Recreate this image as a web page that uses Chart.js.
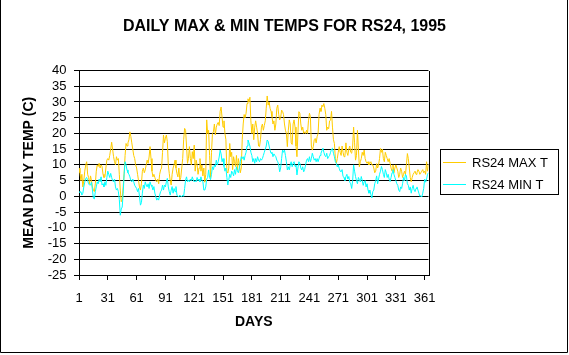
<!DOCTYPE html>
<html><head><meta charset="utf-8">
<script src="https://cdn.jsdelivr.net/npm/chart.js@4.4.1/dist/chart.umd.min.js"></script>
<style>html,body{margin:0;padding:0;background:#fff;}canvas{display:block;}</style>
</head><body>
<canvas id="c" width="569" height="355" style="width:569px;height:355px"></canvas>
<script>
const chartTitle = "DAILY MAX & MIN TEMPS FOR RS24, 1995";
const xTitle = "DAYS";
const yTitle = "MEAN DAILY TEMP (C)";
const seriesNames = ["RS24 MAX T", "RS24 MIN T"];
const xTickLabels = [1, 31, 61, 91, 121, 151, 181, 211, 241, 271, 301, 331, 361];
const yMin = -25, yMax = 40, yStep = 5;
const dayCount = 365;
const days = Array.from({length: dayCount}, (_, i) => i + 1);

const maxT = [
9,7.5,5,7,3,5,8,10,11,7,
6,4,6.5,5,3,2,1.5,4,8,10,
9.5,10.5,9,10,9.5,7,6,6.2,9,11.5,
12,11.5,13,15,17.2,15,12.6,11,10,12.6,
11.5,12,7,2,-1.7,-1,3,7.3,13,16.8,
16,17,18,20.5,19,17,15,13,12,10,
9,7,5,3,2,4,8,9,7.5,8.4,
10,11.5,10.5,12.5,15.8,12,8,6.2,7,6,
5,4.6,5.5,4,7,8.4,9,14,19.5,17,
18.5,19.5,17.4,10,7.3,5,3.6,7,9,10,
11.5,9,7.3,6.2,9,5.2,6,9,12,18,
21.6,21,16,10.5,12,15.8,12,10,14.2,12,
16.3,8,11.5,10,7,9,12,8,10,6.5,
9,4.5,7,24.3,20,21,13,6,14,20,
20.5,23,19.5,22,23,23.5,22.5,27,28.4,25,
22,24,20,18,8,7.4,9,16.8,12.6,14,
8.5,12.6,11,9.5,13,8.4,12,10,7.5,9,
18,23,26,25,26.4,29.5,31,30,31.5,24,
20,23,18,22,24,22,20,16,15.8,18,
22,23,21,22.5,24,28,31.9,29,30,28,
27,25.3,23,24,21,23,28,29,26,24.3,
25,27.4,27,26,23,21,20,15.8,21,24.3,
23,17,16.5,23,24.3,22,16,12.6,20,26.9,
26.4,23,21,22,20,20.5,20,21,20,24,
26.4,25.3,16,14.7,15.8,18,18.4,17,19,20,
26,28,27,29,28.5,29.5,28,26,21,22,
21.5,24,24.2,27,22,18,16.8,12,10.5,12,
14,15.8,14,13,16,14,12.6,13,17,14,
13,15,16,14,13.7,16,22,17,11.5,13,
21,15,9.4,11,12,14,13,14.7,12,11,
10.5,11,10,10.5,11,10,10,9,7.5,8,
10.4,9,10,12,15.2,14,15,12,11,14,
13,12,11,12,10.5,9,8,10,7.5,9,
10,9,8,6,7,9,8,6,7,8,
7,10,13.6,12,9,6,4.6,6,7,7.5,
8,7,7.5,8.5,8,7,7.5,8,8.5,7.5,
8,7,11,8,10
];

const minT = [
1.5,1.2,1.5,0.4,1,3,4.5,5.7,6,5,
4,3.6,3.6,4.5,2,-0.6,-0.8,1.5,3,4.6,
4,5.5,4.6,6.2,3.6,4,3,4.6,3.5,6,
8,7,6,7.3,6,5,4.6,5.5,3,2,
2.5,1.5,-1,-6,-4,-3.4,1,7,11,10,
8.4,7.5,7,6.2,5,4.6,5.5,4.6,3.5,3,
2.5,1.5,2.5,0,-2.8,-2,1,3.6,2.5,4.6,
3.6,3,4,2.5,4.6,3.6,3.1,2,3.1,1,
-0.1,-1.2,-0.6,-1.2,0.4,1.5,2,3.6,2,3.6,
3,4.6,5.7,3,1.5,0.4,2,3.1,1,2.5,
1.5,3.1,0.4,0,-0.1,0.4,0,-0.1,0.4,0,
2.5,5.2,6.2,4.6,5.2,4.6,5.5,5,6.2,5.2,
4.6,5,4.6,6,5,5.5,4.6,6.2,5,4.8,
2,2,3,5.5,6,8.4,6,5.3,7,9.4,
8.5,10,9.4,11.5,10,11,12.5,14.7,13.5,11,
12,9.5,8,9,6,3.6,5.3,7,6,8,
7.5,6.5,8.5,7,9.4,8,7.5,9,11,12.6,
12,12.6,11.5,13,14,16,17.9,17,16,14,
13,11,12,10.5,12,11,12.6,11.5,11,12,
11.5,12,13,14,15,16,17.9,17.5,16,14.7,
13.7,14,12.6,13.5,13,12.6,11.5,11,10,7.8,
9,12,14.7,14,14.7,13,11,8.4,9.4,8.4,
10,11,9.4,10.5,11,9.5,10,6.8,9,11,
10.5,9,8.4,9.4,7.8,8.5,10,11.5,12,11,
12.6,11,12,13.7,12.6,11.5,12,11,12,11,
12,13,13.7,14.5,15.3,14,13,12.6,13.7,12,
12.6,13,14,15,15.3,13.7,12.6,11,10.5,9.4,
10,8.9,8,7.8,8.5,6.3,6,5,6.3,7,
5.5,6.3,4.5,4,2.5,5,10,8,6.3,5,
4,6,5.3,4.6,6.3,5,3.5,4.6,5,3,
4,2,1,2,0.5,-0.5,1.5,2,4,5,
6.5,4,5.5,7,8,9.5,8.5,7,6,8.5,
7.5,6,7,5.5,4.7,6,7.5,8.5,7,6,
5,4,3.5,2,1.5,3,2.5,4,6,5,
7,6.5,4,3.5,2,3,1,2.5,3.5,2,
1.5,2.5,3,2,1,0,0.2,-0.2,1,2.5,
5.5,4.5,5.5,7,7.5
];

const maxColor = '#FFCC00';
const minColor = '#00FFFF';
const FONT = '"Liberation Sans", Arial, sans-serif';

const decor = {
  id: 'decor',
  beforeDraw(chart) {
    const ctx = chart.ctx;
    ctx.save();
    ctx.fillStyle = '#fff';
    ctx.fillRect(0, 0, chart.width, chart.height);
    ctx.restore();
  },
  afterDraw(chart) {
    const {ctx, chartArea: a} = chart;
    ctx.save();
    // chart title
    ctx.fillStyle = '#000';
    ctx.font = 'bold 16px ' + FONT;
    ctx.textAlign = 'center';
    ctx.textBaseline = 'middle';
    ctx.fillText(chartTitle, 284.5, 26.5);
    // right border of plot and outer frame
    ctx.strokeStyle = '#000';
    ctx.lineWidth = 1;
    ctx.beginPath();
    const r = Math.round(a.right) + 0.5;
    ctx.moveTo(r, Math.round(a.top));
    ctx.lineTo(r, Math.round(a.bottom) + 1);
    ctx.moveTo(0.5, 0);
    ctx.lineTo(0.5, 352.5);
    ctx.lineTo(567.5, 352.5);
    ctx.lineTo(567.5, 0);
    ctx.stroke();
    // legend
    const lx = 440.5, ly = 149.5, lw = 118, lh = 45;
    ctx.fillStyle = '#fff';
    ctx.fillRect(lx, ly, lw, lh);
    ctx.strokeRect(lx, ly, lw, lh);
    const rows = [[162.5, maxColor, seriesNames[0]], [184.5, minColor, seriesNames[1]]];
    ctx.font = '13px ' + FONT;
    ctx.textBaseline = 'middle';
    ctx.textAlign = 'left';
    rows.forEach(([y, col, txt]) => {
      ctx.strokeStyle = col;
      ctx.beginPath();
      ctx.moveTo(443, y);
      ctx.lineTo(466, y);
      ctx.stroke();
      ctx.fillStyle = '#000';
      ctx.fillText(txt, 472, y + 0.5);
    });
    ctx.restore();
  }
};

new Chart(document.getElementById('c'), {
  type: 'line',
  data: {
    datasets: [
      {label: seriesNames[0], data: maxT.map((v, i) => ({x: days[i], y: v})), borderColor: maxColor, backgroundColor: maxColor, borderWidth: 1, pointRadius: 0, tension: 0, order: 1},
      {label: seriesNames[1], data: minT.map((v, i) => ({x: days[i], y: v})), borderColor: minColor, backgroundColor: minColor, borderWidth: 1, pointRadius: 0, tension: 0, order: 0}
    ]
  },
  options: {
    responsive: false,
    devicePixelRatio: 1,
    animation: false,
    events: [],
    layout: {padding: {left: 0, right: 140.5, top: 70.5, bottom: 0}},
    plugins: {
      legend: {display: false},
      tooltip: {enabled: false},
      title: {display: false}
    },
    scales: {
      x: {
        type: 'linear', min: 1, max: dayCount,
        afterBuildTicks: (s) => { s.ticks = xTickLabels.map(v => ({value: v})); },
        afterFit: (s) => { s.height = 80; },
        grid: {drawOnChartArea: false, drawTicks: true, tickLength: 5, color: '#000', lineWidth: 1},
        border: {display: true, color: '#000', width: 1},
        ticks: {color: '#000', font: {family: FONT, size: 13}, padding: 11, maxRotation: 0, autoSkip: false, callback: (v) => String(v)},
        title: {display: true, text: xTitle, color: '#000', font: {family: FONT, size: 14, weight: 'bold', lineHeight: 1.2}, padding: {top: 0, bottom: 24.5}}
      },
      y: {
        min: yMin, max: yMax,
        afterFit: (s) => { s.width = 79; },
        grid: {color: '#000', lineWidth: 1, tickLength: 5, drawTicks: true},
        border: {display: true, color: '#000', width: 1},
        ticks: {stepSize: yStep, autoSkip: false, color: '#000', font: {family: FONT, size: 13}, padding: 7.5},
        title: {display: true, text: yTitle, color: '#000', font: {family: FONT, size: 14, weight: 'bold', lineHeight: 1.2}, padding: {top: 20.6, bottom: 0}}
      }
    }
  },
  plugins: [decor]
});
</script>
</body></html>
